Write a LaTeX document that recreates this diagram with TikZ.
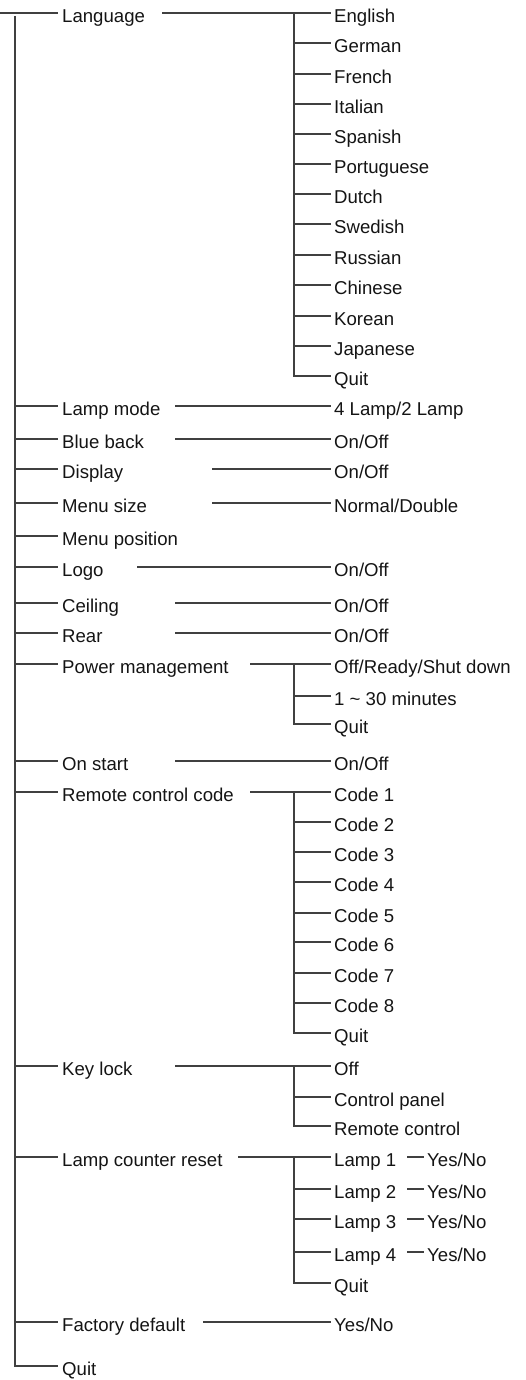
\documentclass[tikz,border=0pt]{standalone}
\usepackage{fontspec}
\setmainfont{Liberation Sans}
\newcommand\kidline[1]{\draw[ln] (#1 -| J) -- ([xshift=-3pt]#1.west);}
\newcommand\mainline[1]{\draw[ln] (T |- #1) -- ([xshift=-4.5pt]#1.west);}
\begin{document}
\begin{tikzpicture}[x=1pt,y=-1pt,
 lbl/.style={anchor=west,inner sep=0pt,text height=19pt,text depth=0pt,font=\fontsize{18.6}{22}\selectfont,text=black!92},
 ln/.style={draw=black!75,line width=1.1pt},
]
\useasboundingbox (0,0) rectangle (525,1380);
\coordinate (L0) at (0,0);
\coordinate (T) at (15,0);
\coordinate (Ttop) at (15,16);
\coordinate (J) at (294,0);
\coordinate (cA) at (137,0);
\coordinate (cL) at (162,0);
\coordinate (cB) at (175,0);
\coordinate (cC) at (203,0);
\coordinate (cD) at (212,0);
\coordinate (cE) at (238,0);
\coordinate (cF) at (250,0);
\coordinate (Y) at (407,0);

% main items
\node[lbl] (lang) at (62,13) {Language};
\node[lbl] (lampmode) at (62,406) {Lamp mode};
\node[lbl] (blue) at (62,439) {Blue back};
\node[lbl] (disp) at (62,469) {Display};
\node[lbl] (msize) at (62,503) {Menu size};
\node[lbl] (mpos) at (62,536) {Menu position};
\node[lbl] (logo) at (62,567) {Logo};
\node[lbl] (ceil) at (62,603) {Ceiling};
\node[lbl] (rear) at (62,633) {Rear};
\node[lbl] (power) at (62,664) {Power management};
\node[lbl] (onstart) at (62,761) {On start};
\node[lbl] (rcc) at (62,792) {Remote control code};
\node[lbl] (keylock) at (62,1066) {Key lock};
\node[lbl] (lcr) at (62,1157) {Lamp counter reset};
\node[lbl] (factory) at (62,1322) {Factory default};
\node[lbl] (quit) at (62,1366) {Quit};

% trunk
\draw[ln] (L0 |- lang) -- ([xshift=-4.5pt]lang.west);
\draw[ln] (Ttop) |- ([xshift=-4.5pt]quit.west);
\foreach \n in {lampmode,blue,disp,msize,mpos,logo,ceil,rear,power,onstart,rcc,keylock,lcr,factory}{\mainline{\n}}

% language
\node[lbl] (en) at (334,13) {English};
\node[lbl] (de) at (334,43) {German};
\node[lbl] (fr) at (334,74) {French};
\node[lbl] (it) at (334,104) {Italian};
\node[lbl] (es) at (334,134) {Spanish};
\node[lbl] (pt) at (334,164) {Portuguese};
\node[lbl] (nl) at (334,194) {Dutch};
\node[lbl] (sv) at (334,224) {Swedish};
\node[lbl] (ru) at (334,255) {Russian};
\node[lbl] (zh) at (334,285) {Chinese};
\node[lbl] (ko) at (334,316) {Korean};
\node[lbl] (ja) at (334,346) {Japanese};
\node[lbl] (lquit) at (334,376) {Quit};
\draw[ln] (lang -| cL) -- ([xshift=-3pt]en.west);
\draw[ln] (en -| J) |- ([xshift=-3pt]lquit.west);
\foreach \n in {de,fr,it,es,pt,nl,sv,ru,zh,ko,ja}{\kidline{\n}}

% simple values
\node[lbl] (vlamp) at (334,406) {4 Lamp/2 Lamp};
\node[lbl] (vblue) at (334,439) {On/Off};
\node[lbl] (vdisp) at (334,469) {On/Off};
\node[lbl] (vmsize) at (334,503) {Normal/Double};
\node[lbl] (vlogo) at (334,567) {On/Off};
\node[lbl] (vceil) at (334,603) {On/Off};
\node[lbl] (vrear) at (334,633) {On/Off};
\node[lbl] (vonstart) at (334,761) {On/Off};
\node[lbl] (vfactory) at (334,1322) {Yes/No};
\draw[ln] (lampmode -| cB) -- ([xshift=-3pt]vlamp.west);
\draw[ln] (blue -| cB) -- ([xshift=-3pt]vblue.west);
\draw[ln] (disp -| cD) -- ([xshift=-3pt]vdisp.west);
\draw[ln] (msize -| cD) -- ([xshift=-3pt]vmsize.west);
\draw[ln] (logo -| cA) -- ([xshift=-3pt]vlogo.west);
\draw[ln] (ceil -| cB) -- ([xshift=-3pt]vceil.west);
\draw[ln] (rear -| cB) -- ([xshift=-3pt]vrear.west);
\draw[ln] (onstart -| cB) -- ([xshift=-3pt]vonstart.west);
\draw[ln] (factory -| cC) -- ([xshift=-3pt]vfactory.west);

% power management
\node[lbl] (p1) at (334,664) {Off/Ready/Shut down};
\node[lbl] (p2) at (334,696) {1 \textasciitilde{} 30 minutes};
\node[lbl] (pq) at (334,724) {Quit};
\draw[ln] (power -| cF) -- ([xshift=-3pt]p1.west);
\draw[ln] (p1 -| J) |- ([xshift=-3pt]pq.west);
\kidline{p2}

% remote control code
\node[lbl] (c1) at (334,792) {Code 1};
\node[lbl] (c2) at (334,822) {Code 2};
\node[lbl] (c3) at (334,852) {Code 3};
\node[lbl] (c4) at (334,882) {Code 4};
\node[lbl] (c5) at (334,913) {Code 5};
\node[lbl] (c6) at (334,942) {Code 6};
\node[lbl] (c7) at (334,973) {Code 7};
\node[lbl] (c8) at (334,1003) {Code 8};
\node[lbl] (cq) at (334,1033) {Quit};
\draw[ln] (rcc -| cF) -- ([xshift=-3pt]c1.west);
\draw[ln] (c1 -| J) |- ([xshift=-3pt]cq.west);
\foreach \n in {c2,c3,c4,c5,c6,c7,c8}{\kidline{\n}}

% key lock
\node[lbl] (k1) at (334,1066) {Off};
\node[lbl] (k2) at (334,1097) {Control panel};
\node[lbl] (k3) at (334,1126) {Remote control};
\draw[ln] (keylock -| cB) -- ([xshift=-3pt]k1.west);
\draw[ln] (k1 -| J) |- ([xshift=-3pt]k3.west);
\kidline{k2}

% lamp counter reset
\node[lbl] (m1) at (334,1157) {Lamp 1};
\node[lbl] (m2) at (334,1189) {Lamp 2};
\node[lbl] (m3) at (334,1219) {Lamp 3};
\node[lbl] (m4) at (334,1252) {Lamp 4};
\node[lbl] (mq) at (334,1283) {Quit};
\draw[ln] (lcr -| cE) -- ([xshift=-3pt]m1.west);
\draw[ln] (m1 -| J) |- ([xshift=-3pt]mq.west);
\foreach \n in {m2,m3,m4}{\kidline{\n}}
\foreach \n in {m1,m2,m3,m4}{
  \node[lbl] (y\n) at (427,0 |- \n) {Yes/No};
  \draw[ln] (\n -| Y) -- ([xshift=-3pt]y\n.west);
}
\end{tikzpicture}
\end{document}
